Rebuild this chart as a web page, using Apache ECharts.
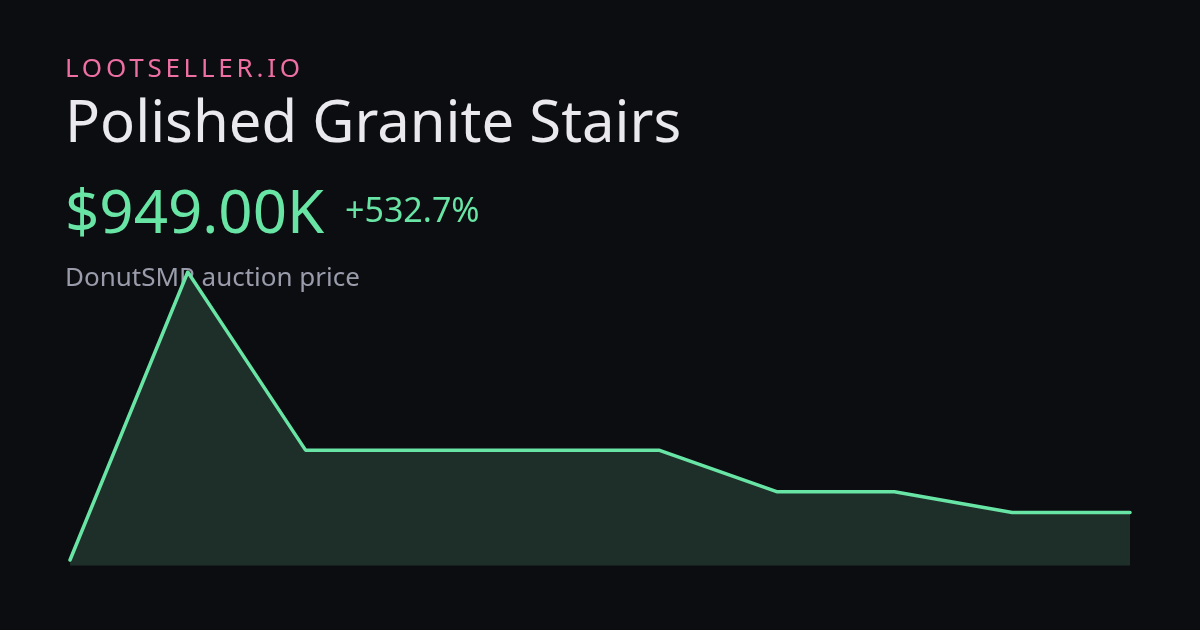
<!DOCTYPE html>
<html>
<head>
<meta charset="utf-8">
<script src="https://cdn.jsdelivr.net/npm/echarts@6/dist/echarts.min.js"></script>
<style>
html,body{margin:0;padding:0;background:#0c0d10;}
#wrap{position:relative;width:1200px;height:630px;overflow:hidden;background:#0c0d10;}
#chart{position:absolute;left:0;top:0;width:1200px;height:630px;}
#brand{position:absolute;left:65px;top:54.4px;font-family:'Noto Sans',sans-serif;font-size:26px;line-height:26px;letter-spacing:3.75px;color:#ee6fa4;white-space:nowrap;}
</style>
</head>
<body>
<div id="wrap">
<div id="chart"></div>
<div id="brand">LOOTSELLER.IO</div>
</div>
<script>
// Data (prices in thousands)
const categories = ['1','2','3','4','5','6','7','8','9','10'];
const prices = [150, 5000, 2000, 2000, 2000, 2000, 1300, 1300, 949, 949];
const titleText = 'Polished Granite Stairs';
const priceText = '$949.00K';
const changeText = '+532.7%';
const subtitleText = 'DonutSMP auction price';

const GREEN = '#68e4a5';
const chart = echarts.init(document.getElementById('chart'), null, {renderer:'canvas', width:1200, height:630});
const font = "'Noto Sans', sans-serif";
chart.setOption({
  backgroundColor: '#0c0d10',
  animation: false,
  grid: {left: 70, right: 70, top: 272, bottom: 64.5},
  xAxis: {type:'category', data: categories, boundaryGap:false, show:false},
  yAxis: {type:'value', min: 57.5, max: 5000, show:false},
  graphic: [
    {type:'text', z:0, x:65, y:125, style:{text:titleText, fill:'#e9e9ee', font:'58px '+font, verticalAlign:'middle'}},
    {type:'text', z:0, x:65, y:215.6, style:{text:priceText, fill:GREEN, font:'60px '+font, verticalAlign:'middle'}},
    {type:'text', z:0, x:345, y:212.8, style:{text:changeText, fill:GREEN, font:'34px '+font, verticalAlign:'middle'}},
    {type:'text', z:0, x:65, y:278.6, style:{text:subtitleText, fill:'#9a9cab', font:'26px '+font, verticalAlign:'middle'}}
  ],
  series: [{
    type:'line',
    data: prices,
    symbol:'none',
    smooth:false,
    z: 5,
    lineStyle:{color:GREEN, width:3.5, cap:'round', join:'round'},
    itemStyle:{color:GREEN},
    areaStyle:{color:'#1e2f2a', opacity:1}
  }]
});
</script>
</body>
</html>
